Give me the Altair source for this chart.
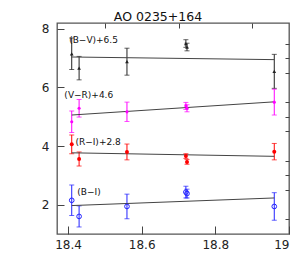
import altair as alt
import pandas as pd

# data
x_obs = [18.41, 18.43, 18.56, 18.72, 18.723, 18.96]
bv = [7.15, 6.66, 6.88, 7.50, 7.38, 6.55]
bv_err = [0.54, 0.40, 0.46, 0.13, 0.13, 0.58]
vr = [4.83, 5.29, 5.17, 5.37, 5.29, 5.50]
vr_err = [0.37, 0.30, 0.33, 0.12, 0.12, 0.44]
ri = [4.06, 3.56, 3.80, 3.66, 3.46, 3.81]
ri_err = [0.32, 0.24, 0.27, 0.08, 0.08, 0.28]
bi = [2.15, 1.60, 1.94, 2.43, 2.38, 1.94]
bi_err = [0.52, 0.36, 0.42, 0.20, 0.15, 0.47]

series_names = ["(B−V)+6.5", "(V−R)+4.6", "(R−I)+2.8", "(B−I)"]
series_colors = ["#222222", "#ff00ff", "#ff0000", "#2222ff"]

fit_x = [18.41, 18.96]
fit_bv = [7.04, 6.95]
fit_vr = [5.06, 5.51]
fit_ri = [3.77, 3.65]
fit_bi = [1.97, 2.23]

label_x = [18.403, 18.39, 18.42, 18.425]
label_y = [7.63, 5.75, 4.14, 2.44]

x_major = [18.4, 18.6, 18.8, 19.0]
x_minor = [18.5, 18.7, 18.9]
y_major = [2, 4, 6, 8]
y_minor = [1.5, 2.5, 3, 3.5, 4.5, 5, 5.5, 6.5, 7, 7.5]

rows = []
for name, ys, es in zip(series_names, [bv, vr, ri, bi], [bv_err, vr_err, ri_err, bi_err]):
    for xv, yv, ev in zip(x_obs, ys, es):
        rows.append({"series": name, "x": xv, "y": yv, "lo": yv - ev, "hi": yv + ev})
obs = pd.DataFrame(rows)

frows = []
for name, ys in zip(series_names, [fit_bv, fit_vr, fit_ri, fit_bi]):
    for xv, yv in zip(fit_x, ys):
        frows.append({"series": name, "x": xv, "y": yv})
fits = pd.DataFrame(frows)

labels = pd.DataFrame({"series": series_names, "x": label_x, "y": label_y})

xs = alt.Scale(domain=[18.37, 19.0], nice=False, zero=False)
ys = alt.Scale(domain=[1.0, 8.2], nice=False, zero=False)
cs = alt.Scale(domain=series_names, range=series_colors)

x_major_axis = alt.Axis(values=x_major, tickSize=8, offset=-8, domain=False, grid=False,
                        labelExpr="format(datum.value, '~g')", labelPadding=5, title=None)
y_major_axis = alt.Axis(values=y_major, tickSize=7, offset=-7, domain=False, grid=False,
                        labelPadding=8, title=None)
x_minor_axis = alt.Axis(values=x_minor, tickSize=5, offset=-5, domain=False, grid=False,
                        labels=False, title=None)
y_minor_axis = alt.Axis(values=y_minor, tickSize=4, offset=-4, domain=False, grid=False,
                        labels=False, title=None)

base = alt.Chart(obs)

errbars = base.mark_errorbar(ticks=alt.MarkConfig(size=5), thickness=1).encode(
    x=alt.X("x:Q", scale=xs, axis=None),
    y=alt.Y("lo:Q", scale=ys, axis=None),
    y2="hi:Q",
    color=alt.Color("series:N", scale=cs, legend=None),
)

pts_bv = base.transform_filter(alt.datum.series == series_names[0]).mark_point(
    shape="triangle-up", filled=True, size=14, opacity=1).encode(
    x=alt.X("x:Q", scale=xs, axis=None), y=alt.Y("y:Q", scale=ys, axis=None),
    color=alt.Color("series:N", scale=cs, legend=None))
pts_vr = base.transform_filter(alt.datum.series == series_names[1]).mark_point(
    shape="circle", filled=True, size=10, opacity=1).encode(
    x=alt.X("x:Q", scale=xs, axis=None), y=alt.Y("y:Q", scale=ys, axis=None),
    color=alt.Color("series:N", scale=cs, legend=None))
pts_ri = base.transform_filter(alt.datum.series == series_names[2]).mark_point(
    shape="circle", filled=True, size=16, opacity=1).encode(
    x=alt.X("x:Q", scale=xs, axis=None), y=alt.Y("y:Q", scale=ys, axis=None),
    color=alt.Color("series:N", scale=cs, legend=None))
pts_bi = base.transform_filter(alt.datum.series == series_names[3]).mark_point(
    shape="circle", filled=False, size=22, strokeWidth=1, opacity=1).encode(
    x=alt.X("x:Q", scale=xs, axis=None), y=alt.Y("y:Q", scale=ys, axis=None),
    color=alt.Color("series:N", scale=cs, legend=None))

lines = alt.Chart(fits).mark_line(color="#444444", strokeWidth=1).encode(
    x=alt.X("x:Q", scale=xs, axis=x_major_axis),
    y=alt.Y("y:Q", scale=ys, axis=y_major_axis),
    detail="series:N",
)

texts = alt.Chart(labels).mark_text(align="left", baseline="middle", fontSize=9,
                                    font="DejaVu Sans", color="#111111").encode(
    x=alt.X("x:Q", scale=xs, axis=x_minor_axis),
    y=alt.Y("y:Q", scale=ys, axis=y_minor_axis),
    text="series:N",
)

chart = alt.layer(errbars, lines, pts_bv, pts_vr, pts_ri, pts_bi, texts).resolve_axis(
    x="independent", y="independent"
).properties(
    width=232, height=211,
    title=alt.TitleParams("AO 0235+164", fontSize=12.5, font="DejaVu Sans",
                          fontWeight="normal", anchor="middle", dx=-15, dy=5, offset=4,
                          color="#111111"),
    autosize=alt.AutoSizeParams(type="none"),
    padding={"left": 49, "top": 15, "right": 8, "bottom": 30},
).configure_view(
    stroke="#555555", strokeWidth=1.3
).configure_axis(
    labelFont="DejaVu Sans", labelFontSize=12, labelColor="#222222",
    tickColor="#444444", tickWidth=1
)

chart.save("out.html", embed_options={"renderer": "svg", "actions": False})
